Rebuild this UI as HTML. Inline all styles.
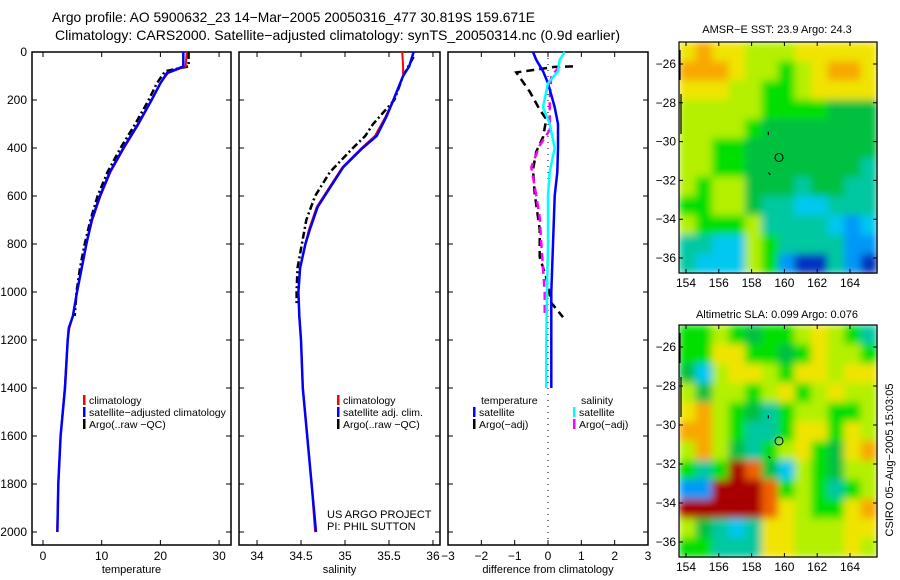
<!DOCTYPE html>
<html><head><meta charset="utf-8"><style>
html,body{margin:0;padding:0;background:#fff;}
svg{display:block;font-family:"Liberation Sans",sans-serif;}
</style></head><body>
<svg id="fig" width="900" height="580" viewBox="0 0 900 580" xmlns="http://www.w3.org/2000/svg">
<defs>
<filter id="smooth" x="0" y="0" width="1" height="1"><feGaussianBlur stdDeviation="4" edgeMode="duplicate"/></filter>
</defs>
<rect width="900" height="580" fill="#fff"/>
<text x="52" y="22" font-size="14" textLength="483" lengthAdjust="spacingAndGlyphs">Argo profile: AO 5900632_23 14−Mar−2005 20050316_477 30.819S 159.671E</text>
<text x="55" y="40" font-size="14" textLength="565" lengthAdjust="spacingAndGlyphs">Climatology: CARS2000. Satellite−adjusted climatology: synTS_20050314.nc (0.9d earlier)</text>
<g id="maps"></g>
<g id="plots"></g>
<text x="777" y="33" font-size="11" text-anchor="middle">AMSR−E SST: 23.9 Argo: 24.3</text>
<text x="777" y="318" font-size="11" text-anchor="middle">Altimetric SLA: 0.099 Argo: 0.076</text>
<text x="0" y="0" font-size="11" text-anchor="middle" transform="translate(893,460) rotate(-90)">CSIRO 05−Aug−2005 15:03:05</text>
<text x="327" y="518" font-size="11">US ARGO PROJECT</text>
<text x="327" y="530" font-size="11">PI: PHIL SUTTON</text>
</svg>
<script>
// ---- profile data ----
const tDepth = [0,60,88,130,200,300,400,500,600,700,800,900,1000,1100,1150,1200,1400,1600,1800,2000];
const tClim  = [24.5,24.3,21.3,20.0,18.5,16.3,13.8,11.5,9.8,8.4,7.4,6.6,5.8,5.1,4.5,4.2,3.7,3.0,2.6,2.4];
const tSat   = [23.9,23.9,21.1,20.0,18.5,16.2,13.7,11.4,9.7,8.3,7.4,6.6,5.8,5.1,4.4,4.2,3.75,3.0,2.6,2.45];
const aDepth = [0,60,80,130,200,300,400,500,600,700,800,900,1000,1100];
const tArgo  = [24.8,24.8,20.8,19.4,18.0,15.7,13.2,11.0,9.3,8.1,7.1,6.3,5.7,5.4];
const sDepth = [0,60,100,200,270,350,400,480,645,740,800,900,1000,1100,1200,1400,1600,1800,2000];
const sClim  = [35.65,35.66,35.66,35.55,35.46,35.34,35.19,34.97,34.68,34.59,34.55,34.49,34.47,34.48,34.50,34.52,34.57,34.62,34.66];
const sSat   = [35.78,35.73,35.66,35.55,35.47,35.36,35.20,34.98,34.69,34.60,34.55,34.49,34.47,34.48,34.50,34.52,34.57,34.62,34.67];
const saDepth= [20,100,200,300,350,400,500,600,700,800,900,1000,1050];
const sArgo  = [35.78,35.66,35.56,35.32,35.23,35.09,34.83,34.66,34.56,34.51,34.46,34.45,34.45];
// differences
const dDepth   = [0,33,80,130,230,300,400,500,600,800,1000,1200,1400];
const dTempSat = [-0.45,-0.35,-0.15,0.0,0.2,0.3,0.3,0.28,0.2,0.15,0.1,0.1,0.1];
const dSalSat  = [0.5,0.35,0.3,0.0,-0.15,0.05,0.2,0.05,0.0,0.0,-0.03,-0.05,-0.05];
const daDepth  = [60,62,85,165,240,280,355,415,490,590,740,855,940,1045,1105];
const dTempArgo= [0.75,0.2,-0.95,-0.55,-0.25,-0.05,-0.15,-0.35,-0.45,-0.4,-0.25,-0.25,-0.05,0.1,0.45];
const dsDepth  = [60,100,200,325,390,480,600,690,800,1000,1105];
const dSalArgo = [0.35,0.1,0.05,0.05,-0.25,-0.5,-0.35,-0.25,-0.2,-0.1,-0.1];
// ticks
const depthTicks = [0,200,400,600,800,1000,1200,1400,1600,1800,2000];
const tempTicks = [0,10,20,30];
const salTicks = [34,34.5,35,35.5,36];
const diffTicks = [-3,-2,-1,0,1,2,3];
const latTicks = [-26,-28,-30,-32,-34,-36];
const lonTicks = [154,156,158,160,162,164];

const NS="http://www.w3.org/2000/svg";
const plots=document.getElementById('plots');
function mk(tag,attrs,parent){const e=document.createElementNS(NS,tag);for(const k in attrs)e.setAttribute(k,attrs[k]);(parent||plots).appendChild(e);return e;}
const TOP=52,BOT=545;
const yD=d=>TOP+d*0.24;
const panels=[
 {x0:32,x1:231,v0:-1.874,v1:32.03,ticks:tempTicks,title:'temperature',name:'temperature'},
 {x0:239,x1:440,v0:33.795,v1:36.08,ticks:salTicks,title:'salinity',name:'salinity'},
 {x0:448,x1:648,v0:-3,v1:3,ticks:diffTicks,title:'difference from climatology',name:'difference'}
];
panels.forEach((p,i)=>{
 p.sx=v=>p.x0+(v-p.v0)/(p.v1-p.v0)*(p.x1-p.x0);
 const r=mk('rect',{x:p.x0,y:TOP,width:p.x1-p.x0,height:BOT-TOP,fill:'none',stroke:'#000','stroke-width':1.5});
 
 
 p.ticks.forEach(t=>{
  const x=p.sx(t);
  const l=mk('path',{d:`M${x},${BOT}v-5M${x},${TOP}v5`,stroke:'#000','stroke-width':1});
  
  
  const tx=mk('text',{x:x,y:BOT+15,'font-size':12,'text-anchor':'middle'});
  tx.textContent=(t<0?'−'+(-t):String(t));
  
  
 });
 depthTicks.forEach(d=>{
  const y=yD(d);
  const l=mk('path',{d:`M${p.x0},${y}h5M${p.x1},${y}h-5`,stroke:'#000','stroke-width':1});
  
  
  if(i===0){const tx=mk('text',{x:27,y:y+4,'font-size':12,'text-anchor':'end'});tx.textContent=d;
   
   }
 });
 const tt=mk('text',{x:(p.x0+p.x1)/2,y:573,'font-size':11,'text-anchor':'middle'});
 tt.textContent=p.title;
 
 
});
function line(p,vals,deps,color,w,dash,name){
 const pts=vals.map((v,i)=>p.sx(v).toFixed(1)+','+yD(deps[i]).toFixed(1)).join(' ');
 const a={points:pts,fill:'none',stroke:color,'stroke-width':w};
 if(dash)a['stroke-dasharray']=dash;
 const e=mk('polyline',a);
 
 
}
const P=panels;
const z=mk('line',{x1:P[2].sx(0),x2:P[2].sx(0),y1:TOP,y2:BOT,stroke:'#000','stroke-width':1,'stroke-dasharray':'1,5'});


line(P[0],tArgo,aDepth,'#000',2.5,'7,3,2,3','temp-argo-line');
line(P[0],tClim,tDepth,'#f00',2,null,'temp-climatology-line');
line(P[0],tSat,tDepth,'#00f',2.5,null,'temp-satellite-line');
line(P[1],sArgo,saDepth,'#000',2.5,'7,3,2,3','sal-argo-line');
line(P[1],sClim,sDepth,'#f00',2,null,'sal-climatology-line');
line(P[1],sSat,sDepth,'#00f',2.5,null,'sal-satellite-line');
line(P[2],dTempArgo,daDepth,'#000',2.5,'8,5','diff-temp-argo-line');
line(P[2],dSalArgo,dsDepth,'#f0f',2.5,'8,5','diff-sal-argo-line');
line(P[2],dTempSat,dDepth,'#00f',2.5,null,'diff-temp-satellite-line');
line(P[2],dSalSat,dDepth,'#0ff',2.5,null,'diff-sal-satellite-line');
function leg(x,y,color,label,name){
 if(color){const b=mk('rect',{x:x,y:y-9,width:2.5,height:10,fill:color});
  
  }
 const t=mk('text',{x:x+6,y:y,'font-size':10.5});t.textContent=label;
 
 
}
leg(83,404,'#f00','climatology','legend-climatology');
leg(83,416,'#00f','satellite−adjusted climatology','legend-satellite-adjusted');
leg(83,428,'#000','Argo(..raw −QC)','legend-argo');
leg(337,404,'#f00','climatology','legend2-climatology');
leg(337,416,'#00f','satellite adj. clim.','legend2-satellite');
leg(337,428,'#000','Argo(..raw −QC)','legend2-argo');
leg(475,404,null,'temperature','legend3-temperature-header');
leg(473,416,'#00f','satellite','legend3-temp-satellite');
leg(473,428,'#000','Argo(−adj)','legend3-temp-argo');
leg(575,404,null,'salinity','legend3-salinity-header');
leg(573,416,'#0ff','satellite','legend3-sal-satellite');
leg(573,428,'#f0f','Argo(−adj)','legend3-sal-argo');

// ---- maps ----
const pal={O:'#f8a800',o:'#f06000',Y:'#f0e400',L:'#b4f000',G:'#00e000',g:'#00c040',T:'#00c8a0',C:'#00c8f0',B:'#0098f8',D:'#0030c0',R:'#a80000'};
const sstGrid=["YOYYLLLYYYYY","OOOYLLGLYOOY","YYYLLGGLYYYY","LLLLLGGGGggg","LLLLGggggggg","LLGGgggggggg","LLGGgggggggT","LGLLgggTggTT","GGLLgTTCCTTT","LGGGLTTTTCBC","TTCCLGTTTTBB","TCCCLGBDDTBD"];
const slaGrid=["GGLGgGGLYLGT","GGYYGGgGYLLG","gCLYYLGYYLYY","LgLLGLYGLYLL","YOLGgTGLLGGL","OOLGTTGYYGYL","LOLgTGLYGgYO","GTGRogCLGgLL","BBRRRoGLGTGL","RRRRRoYLGGYO","LgTCTYYLLLYY","GGTTTYYLLLYL"];
const maps=document.getElementById('maps');
function drawMap(grid,x0,y0,x1,y1,latA,latB,name){
 const g=mk('g',{},maps);
 
 
 const cells=mk('g',{filter:'url(#smooth)'},g);
 
 
 const nr=grid.length,nc=grid[0].length,cw=(x1-x0)/nc,ch=(y1-y0)/nr;
 grid.forEach((row,r)=>{[...row].forEach((c,k)=>{
  const e=mk('rect',{x:(x0+k*cw).toFixed(1),y:(y0+r*ch).toFixed(1),width:(cw+0.6).toFixed(1),height:(ch+0.6).toFixed(1),fill:pal[c]},cells);
  
  
 });});
 const fr=mk('rect',{x:x0,y:y0,width:x1-x0,height:y1-y0,fill:'none',stroke:'#000','stroke-width':1.2},g);
 
 
 const lonX=l=>686+(l-154)*16.4;
 const latY=l=>latA+(-26-l)*(latB-latA)/10;
 lonTicks.forEach(l=>{const x=lonX(l);
  const t=mk('path',{d:`M${x},${y1}v-4M${x},${y0}v4`,stroke:'#000'},g);
  
  
  const tx=mk('text',{x:x,y:y1+14,'font-size':12,'text-anchor':'middle'},g);tx.textContent=l;
  
  });
 latTicks.forEach(l=>{const y=latY(l);
  const t=mk('path',{d:`M${x0},${y}h4M${x1},${y}h-4`,stroke:'#000'},g);
  
  
  const tx=mk('text',{x:x0-3,y:y+4,'font-size':12,'text-anchor':'end'},g);tx.textContent='−'+(-l);
  
  });
 const cx=lonX(159.671),cy=latY(-30.819);
 const c=mk('circle',{cx:cx,cy:cy,r:4,fill:'none',stroke:'#000','stroke-width':1},g);
 
 
 const co=mk('path',{d:`M680,${y0+8}v30M681,${y0+52}v40M${x0+(159.05-153.6)*16.4},${latY(-29.5)}v3M${x0+(159.05-153.6)*16.4},${latY(-31.6)}l2,2`,stroke:'#000','stroke-width':1.2,fill:'none'},g);
 
 
}
drawMap(sstGrid,679,42,877,273,64,258,'sst-map');
drawMap(slaGrid,679,325,877,557,347,542,'sla-map');
</script>
</body></html>
